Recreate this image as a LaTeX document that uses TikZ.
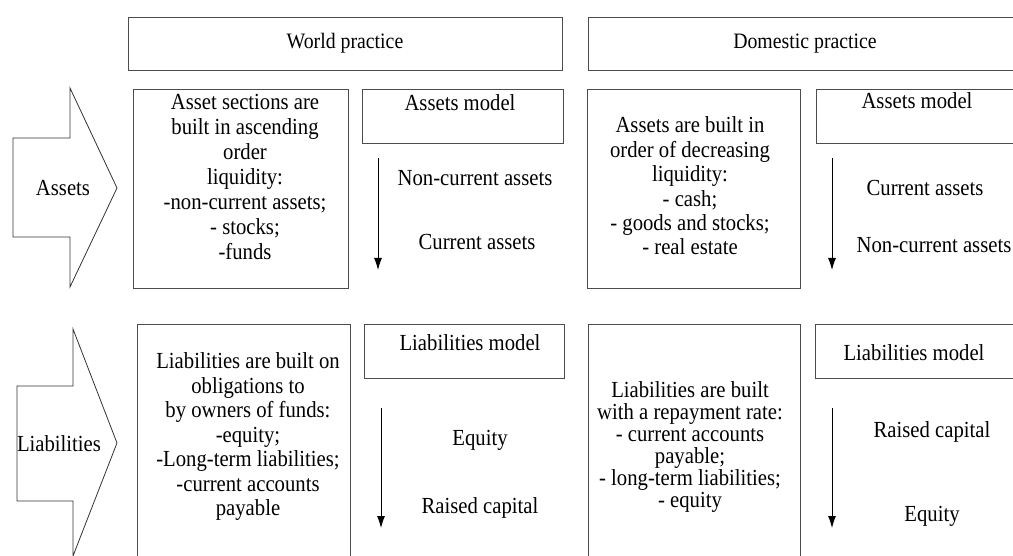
\documentclass[tikz,border=0pt]{standalone}
\usepackage{fontspec}
\setmainfont{Liberation Serif}[FakeStretch=0.9]
\usepackage{tikz}
\usetikzlibrary{arrows.meta}
\tikzstyle{diag}=[x=1pt,y=-1pt,line width=0.9pt,draw=black!70]
\tikzstyle{head}=[rectangle, draw=black!70, inner sep=0pt, minimum height=53pt, font=\fontsize{22}{24}\selectfont]
\tikzstyle{panel}=[rectangle, draw=black!70, inner sep=0pt]
\tikzstyle{model}=[rectangle, draw=black!70, inner sep=0pt, minimum height=54pt]
\tikzstyle{txt}=[inner sep=0pt, align=center, font=\fontsize{23}{25}\selectfont]
\tikzstyle{item}=[inner sep=0pt, font=\fontsize{23}{25}\selectfont]
\tikzstyle{bigarrow}=[draw=black!80, line width=0.8pt, line join=miter]
\tikzstyle{edge}=[draw=black, line width=0.9pt, -{Latex[length=12pt,width=8pt]}]

\begin{document}
\begin{tikzpicture}[diag]
			\useasboundingbox (0,0) rectangle (1013,556);
			\clip (0,0) rectangle (1013,556);
			
			%The headers
			\draw (345,43.5) node[head, minimum width=434pt] (world) {World practice};
			\draw (805,43.5) node[head, minimum width=434pt] (domestic) {Domestic practice};
			
			%The block arrows
			\draw[bigarrow] (13,138) -- (70,138) -- (70,88) -- (117,188) -- (70,287) -- (70,237) -- (13,237) -- cycle;
			\draw (63,188) node[item] (assets) {Assets};
			\draw[bigarrow] (17,386) -- (73,386) -- (73,329) -- (117,443) -- (73,556) -- (73,501) -- (17,501) -- cycle;
			\draw (59,444) node[item] (liab) {Liabilities};
			
			%The boxes
			\draw (240.5,188.5) node[panel, minimum width=215pt, minimum height=199pt] (wa) {};
			\draw (462.5,116) node[model, minimum width=201pt] (wam) {};
			\draw (693.5,188.5) node[panel, minimum width=213pt, minimum height=199pt] (da) {};
			\draw (923,116) node[model, minimum width=214pt] (dam) {};
			\draw (243.5,462) node[panel, minimum width=213pt, minimum height=276pt] (wl) {};
			\draw (464,351) node[model, minimum width=200pt] (wlm) {};
			\draw (694,462) node[panel, minimum width=212pt, minimum height=276pt] (dl) {};
			\draw (922.5,351) node[model, minimum width=215pt] (dlm) {};
			
			%The box texts
			\draw (245,177) node[txt] (wa-text) {Asset sections are\\built in ascending\\order\\liquidity:\\-non-current assets;\\- stocks;\\-funds};
			\draw (690,186) node[txt, font=\fontsize{23}{24.4}\selectfont] (da-text) {Assets are built in\\order of decreasing\\liquidity:\\- cash;\\- goods and stocks;\\- real estate};
			\draw (248,437) node[txt, font=\fontsize{23}{24.5}\selectfont] (wl-text) {Liabilities are built on\\obligations to\\by owners of funds:\\-equity;\\-Long-term liabilities;\\-current accounts\\payable};
			\draw (690,447) node[txt, font=\fontsize{23}{22}\selectfont] (dl-text) {Liabilities are built\\with a repayment rate:\\- current accounts\\payable;\\- long-term liabilities;\\- equity};
			
			%The models
			\draw (460,103) node[item] (wam-text) {Assets model};
			\draw (917,101) node[item] (dam-text) {Assets model};
			\draw (470,343) node[item] (wlm-text) {Liabilities model};
			\draw (914,353) node[item] (dlm-text) {Liabilities model};
			
			\draw (475,178) node[item] (wa-1) {Non-current assets};
			\draw (477,242) node[item] (wa-2) {Current assets};
			\draw (925,188) node[item] (da-1) {Current assets};
			\draw (934,245) node[item] (da-2) {Non-current assets};
			\draw (480,440) node[item] (wl-1) {Equity};
			\draw (480,508) node[item] (wl-2) {Raised capital};
			\draw (932,432) node[item] (dl-1) {Raised capital};
			\draw (932,516) node[item] (dl-2) {Equity};
			
			%The order arrows
			\coordinate (wa-top) at (378,158);
			\coordinate (wa-bot) at (378,270);
			\coordinate (da-top) at (832,158);
			\coordinate (da-bot) at (832,270);
			\coordinate (wl-top) at (381,408);
			\coordinate (wl-bot) at (381,528);
			\coordinate (dl-top) at (832,408);
			\coordinate (dl-bot) at (832,528);
			\draw[edge] (wa-top) -- (wa-bot);
			\draw[edge] (da-top) -- (da-bot);
			\draw[edge] (wl-top) -- (wl-bot);
			\draw[edge] (dl-top) -- (dl-bot);
		\end{tikzpicture}
\end{document}
